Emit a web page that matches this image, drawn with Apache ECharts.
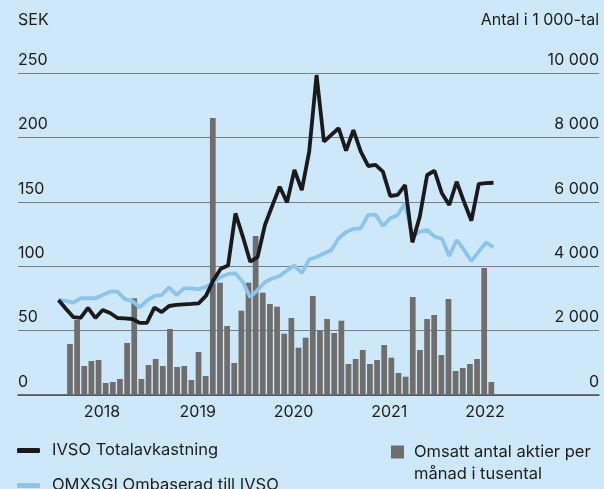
<!DOCTYPE html>
<html>
<head>
<meta charset="utf-8">
<title>IVSO</title>
<script src="https://cdn.jsdelivr.net/npm/echarts@6/dist/echarts.min.js"></script>
<style>
    html, body { margin: 0; padding: 0; background: #cde8f8; }
    #main { width: 604px; height: 489px; }
</style>
</head>
<body>
<div id="main"></div>
<script>
// totalavkastning, SEK (monthly)
const ivso = [73.8, 67, 60.5, 59.8, 67.6, 59.8, 66, 63.7, 59.8, 59.5,
    59, 56, 56.1, 67.8, 64.4, 69.1, 69.9, 70.3, 70.7, 71.2,
    77, 89, 98, 100.5, 141, 123, 103.5, 107, 132, 147,
    161.7, 149.6, 174.7, 159, 188.9, 248.4, 196.7, 201.9, 207.1, 189.7,
    205.7, 188.9, 177.8, 178.6, 173.4, 154.5, 155.3, 163, 118.5, 138.5,
    170.8, 174.1, 156.6, 147.5, 165.6, 150, 135.3, 164, 164.5, 164.8]

// OMXSGI rebased to IVSO
const omx = [73.8, 73, 71.7, 75.1, 75.1, 75.1, 77.6, 80.2, 80.2, 74.5,
    73, 68.1, 73.2, 76.9, 77.6, 83.6, 77.6, 82.8, 82.8, 82.1,
    83.9, 87.5, 91.6, 94, 94.5, 87.7, 76, 81.5, 87.7, 90.5,
    92.4, 96.7, 100.5, 94.7, 105.2, 107.1, 109.9, 112.6, 121.7, 126.6,
    128.9, 129.4, 139.8, 140.1, 131.2, 137.2, 139.8, 148.8, 123, 126.8,
    128.1, 122.9, 121.3, 107.9, 120.3, 112.6, 104, 111.3, 118.4, 114.7]

// omsatt antal aktier per månad, tusental
const volume = [1584, 2329, 901, 1056, 1087, 373, 404, 497, 1615, 3003,
    497, 932, 1118, 901, 2050, 870, 901, 466, 1335, 590,
    8600, 3488, 2143, 994, 2619, 3488, 4938, 3177, 2826, 2743,
    1904, 2391, 1469, 1780, 3075, 1998, 2360, 1925, 2308, 963,
    1118, 1398, 963, 1087, 1553, 1159, 683, 569, 3043, 1398,
    2360, 2484, 1242, 2981, 745, 839, 963, 1118, 3944, 404]

const years = [2018, 2019, 2020, 2021, 2022]

const lineMonths = ivso.map((v, i) => 'm' + i)
const barMonths = volume.map((v, i) => 'm' + i)

const font = 'Inter, "Noto Sans", sans-serif'
const ink = '#1d1d1b'
const fs = 16
const legendFs = 16.5

const nameIvso = 'IVSO Totalavkastning'
const nameOmx = 'OMXSGI Ombaserad till IVSO'
const nameVol = 'Omsatt antal aktier per\nmånad i tusental'

const spaced = v => String(v).replace(/\B(?=(\d{3})+(?!\d))/g, ' ')

const chart = echarts.init(document.getElementById('main'))

// one legend per line item, so nothing wraps at the bottom edge
const lineLegend = (name, top) => ({
    left: 12,
    top: top,
    itemWidth: 23,
    itemHeight: 5,
    textStyle: { fontSize: legendFs, color: ink, padding: [0, 0, 0, 7] },
    data: [{ name: name, icon: 'roundRect' }],
})

const option = {
    backgroundColor: '#cde8f8',
    animation: false,
    textStyle: { fontFamily: font, color: ink },
    grid: [
        // axes + gridlines
        { left: 18, right: 5, top: 73, bottom: 94 },
        // bars
        { left: 66.4, right: 109.1, top: 73, bottom: 94 },
        // lines
        { left: 58.5, right: 110.5, top: 73, bottom: 94 },
    ],
    legend: [
        lineLegend(nameIvso, 437),
        lineLegend(nameOmx, 472),
        {
            left: 386,
            top: 414,
            itemWidth: 13,
            itemHeight: 13,
            // empty first line keeps the square level with the first text row
            formatter: n => ' \n' + n,
            textStyle: { fontSize: legendFs, color: ink, lineHeight: 22, padding: [0, 0, 0, 5] },
            data: [{ name: nameVol, icon: 'rect' }],
        },
    ],
    xAxis: [
        {
            gridIndex: 0,
            type: 'value',
            min: 2017.1227,
            max: 2023.1906,
            axisLine: { show: true, onZero: false, lineStyle: { color: '#4d4d4d', width: 1.5 } },
            axisTick: { show: false },
            splitLine: { show: false },
            axisLabel: {
                customValues: years,
                formatter: v => String(v),
                color: ink,
                fontSize: fs,
                margin: 9,
            },
        },
        { gridIndex: 1, type: 'category', data: barMonths, show: false },
        { gridIndex: 2, type: 'category', data: lineMonths, boundaryGap: false, show: false },
    ],
    yAxis: [
        {
            gridIndex: 0,
            type: 'value',
            min: 0,
            max: 250,
            interval: 50,
            name: 'SEK',
            nameLocation: 'end',
            nameGap: 53,
            nameTextStyle: { align: 'left', verticalAlign: 'middle', fontSize: fs, color: ink },
            axisLine: { show: false },
            axisTick: { show: false },
            axisLabel: {
                inside: true,
                align: 'left',
                verticalAlign: 'bottom',
                margin: 0,
                padding: [0, 0, 5, 0],
                fontSize: fs,
                color: ink,
            },
            splitLine: { lineStyle: { color: '#7d7d7d', width: 1 } },
        },
        {
            gridIndex: 0,
            type: 'value',
            position: 'right',
            min: 0,
            max: 10000,
            interval: 2000,
            name: 'Antal i 1 000-tal',
            nameLocation: 'end',
            nameGap: 53,
            nameTextStyle: { align: 'right', verticalAlign: 'middle', fontSize: fs, color: ink },
            axisLine: { show: false },
            axisTick: { show: false },
            axisLabel: {
                inside: true,
                align: 'right',
                verticalAlign: 'bottom',
                margin: 0,
                padding: [0, 0, 5, 0],
                fontSize: fs,
                color: ink,
                formatter: spaced,
            },
            splitLine: { show: false },
        },
        { gridIndex: 1, type: 'value', min: 0, max: 10000, show: false },
        { gridIndex: 2, type: 'value', min: 0, max: 250, show: false },
    ],
    series: [
        {
            name: nameVol,
            type: 'bar',
            xAxisIndex: 1,
            yAxisIndex: 2,
            data: volume,
            barCategoryGap: '20%',
            itemStyle: { color: '#6f6e6c' },
            z: 2,
        },
        {
            name: nameOmx,
            type: 'line',
            xAxisIndex: 2,
            yAxisIndex: 3,
            data: omx,
            symbol: 'none',
            lineStyle: { color: '#8cc4ec', width: 3.8 },
            itemStyle: { color: '#8cc4ec' },
            z: 3,
        },
        {
            name: nameIvso,
            type: 'line',
            xAxisIndex: 2,
            yAxisIndex: 3,
            data: ivso,
            symbol: 'none',
            lineStyle: { color: '#1a1a1a', width: 3.8 },
            itemStyle: { color: '#1a1a1a' },
            z: 4,
        },
    ],
}

chart.setOption(option)
</script>
</body>
</html>
